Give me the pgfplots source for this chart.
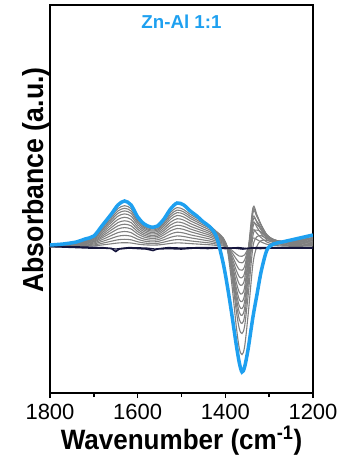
\documentclass[border=0pt]{standalone}
\usepackage{fontspec}
\setmainfont{Liberation Sans}
\usepackage{graphicx}
\usepackage{pgfplots}
\usepackage{pgfplotstable}
\pgfplotsset{compat=1.18}
\definecolor{zblue}{RGB}{30,160,240}
\definecolor{lgray}{RGB}{128,128,128}
\definecolor{navy}{RGB}{20,20,60}
\pgfplotstableread{
x g1 g2 g3 g4 g5 g6 g7 g8 g9 g10 g11 g12
1800 0.1 0.2 0.3 0.4 0.5 0.5 0.6 0.7 0.8 0.8 0.9 1.0
1770 0.2 0.4 0.5 0.7 0.9 1.1 1.2 1.4 1.5 1.7 1.8 1.9
1740 0.4 0.7 1.1 1.4 1.8 2.1 2.4 2.8 3.1 3.4 3.6 3.8
1720 0.7 1.3 1.9 2.5 3.2 3.7 4.3 4.8 5.4 5.9 6.3 6.7
1700 1.1 2.0 3.0 4.0 5.0 5.8 6.7 7.6 8.5 9.2 9.9 10.6
1680 2.1 3.8 5.7 7.6 9.5 11.1 12.8 14.5 16.2 17.6 18.9 20.2
1660 3.2 5.8 8.6 11.5 14.4 17.0 19.5 22.1 24.6 26.9 28.8 30.7
1645 4.0 7.2 10.8 14.4 18.0 21.2 24.4 27.6 30.8 33.6 36.0 38.4
1630 4.3 7.7 11.6 15.5 19.4 22.8 26.2 29.7 33.1 36.1 38.7 41.3
1615 4.0 7.2 10.8 14.4 18.0 21.2 24.4 27.6 30.8 33.6 36.0 38.4
1600 2.9 5.2 7.8 10.4 13.1 15.4 17.7 20.0 22.3 24.4 26.1 27.8
1585 2.2 4.0 5.9 7.9 9.9 11.7 13.4 15.2 16.9 18.5 19.8 21.1
1570 1.9 3.4 5.1 6.8 8.6 10.1 11.6 13.1 14.6 16.0 17.1 18.2
1555 2.0 3.6 5.4 7.2 9.0 10.6 12.2 13.8 15.4 16.8 18.0 19.2
1540 2.7 4.9 7.3 9.7 12.2 14.3 16.5 18.6 20.8 22.7 24.3 25.9
1525 3.6 6.5 9.7 13.0 16.2 19.1 22.0 24.8 27.7 30.2 32.4 34.6
1510 4.1 7.4 11.1 14.8 18.5 21.7 25.0 28.3 31.6 34.4 36.9 39.4
1495 3.9 7.0 10.5 14.0 17.6 20.7 23.8 26.9 30.0 32.8 35.1 37.4
1480 3.4 6.1 9.2 12.2 15.3 18.0 20.7 23.5 26.2 28.6 30.6 32.6
1465 3.0 5.4 8.1 10.8 13.5 15.9 18.3 20.7 23.1 25.2 27.0 28.8
1450 2.6 4.7 7.0 9.4 11.7 13.8 15.9 17.9 20.0 21.8 23.4 25.0
1435 2.2 4.0 5.9 7.9 9.9 11.7 13.4 15.2 16.9 18.5 19.8 21.1
1420 1.6 2.9 4.3 5.8 7.2 8.5 9.8 11.0 12.3 13.4 14.4 15.4
1405 1.0 1.8 2.8 3.7 4.6 5.4 6.2 7.0 7.9 8.5 9.0 9.2
1395 -0.2 -0.2 -0.3 -0.4 -0.4 -0.7 -0.9 -0.9 -0.9 -1.2 -1.8 -3.7
1385 -3.3 -5.5 -8.1 -10.7 -13.3 -16.3 -18.9 -21.2 -23.4 -26.1 -29.7 -37.7
1375 -7.1 -12.0 -17.7 -23.3 -29.0 -35.4 -41.1 -46.0 -50.9 -56.6 -63.9 -79.4
1368 -9.1 -15.4 -22.7 -29.9 -37.2 -45.4 -52.7 -59.0 -65.4 -72.7 -81.9 -101.5
1362 -9.3 -15.8 -23.2 -30.7 -38.1 -46.9 -54.6 -61.6 -68.4 -76.4 -86.5 -107.6
1356 -7.9 -13.2 -19.5 -25.9 -32.0 -40.2 -47.5 -54.4 -61.2 -69.1 -79.1 -99.7
1348 -1.4 -1.6 -2.5 -4.4 -4.4 -10.5 -16.0 -23.4 -29.9 -38.1 -48.6 -67.8
1337 8.9 16.8 24.3 29.9 39.4 36.6 34.1 26.0 19.8 11.3 0.1 -16.9
1328 7.4 13.6 19.8 24.6 32.2 31.2 30.4 25.5 22.0 16.9 10.2 0.5
1318 5.0 9.2 13.4 16.7 21.8 21.7 21.6 19.1 17.4 14.8 11.3 6.6
1305 2.7 4.9 7.2 9.1 11.8 12.0 12.2 11.3 10.7 9.7 8.3 6.5
1290 1.6 2.9 4.3 5.4 7.0 7.3 7.6 7.4 7.3 7.0 6.4 5.6
1270 1.0 1.8 2.6 3.4 4.3 4.7 5.1 5.3 5.5 5.6 5.6 5.5
1240 0.7 1.3 1.9 2.5 3.2 3.7 4.3 4.8 5.4 5.9 6.3 6.7
1200 1.0 1.8 2.7 3.6 4.5 5.3 6.1 6.9 7.7 8.4 9.0 9.6
}\grays
\begin{document}
\begin{tikzpicture}
\begin{axis}[
  name=ax, at={(0,0)}, anchor=south west,
  scale only axis, width=263pt, height=388pt,
  x dir=reverse, xmin=1200, xmax=1800, ymin=-146, ymax=242,
  xtick={1200,1400,1600,1800}, minor xtick={1300,1500,1700},
  ytick=\empty, xtick pos=left, tick align=outside,
  major tick length=5pt, minor tick length=4pt,
  every tick/.style={black, line width=1.4pt},
  axis line style={line width=1.6pt},
  /pgf/number format/assume math mode=true,
  /pgf/number format/1000 sep={},
  xticklabel style={font=\fontsize{22}{26}\selectfont, yshift=-3pt},
]
\pgfplotsinvokeforeach{1,...,12}{
  \addplot[lgray, line width=1.1pt, smooth] table[x=x,y=g#1]{\grays};
}
\addplot[navy, line width=1.6pt] coordinates {(1800,0.5)(1770,0)(1740,-0.5)(1710,-1)(1680,-1)(1660,-1.5)(1650,-4.5)(1642,-2)(1620,-1)(1600,-1.5)(1580,-2)(1565,-3.5)(1555,-2)(1530,-1.5)(1500,-2)(1470,-1)(1440,-1.5)(1420,-1)(1400,-1.5)(1380,-1)(1360,-2)(1340,-1)(1320,-1.5)(1300,-1)(1270,-1)(1240,-1)(1200,-1)};
\addplot[navy, line width=1.2pt] coordinates {(1800,1)(1760,0.5)(1720,0)(1680,-0.5)(1650,-2)(1620,-0.5)(1580,-1)(1560,-2)(1530,-0.5)(1500,-1)(1460,-0.5)(1420,-0.5)(1390,-1)(1370,-0.5)(1350,-1.5)(1330,-0.5)(1300,-0.5)(1250,-0.5)(1200,-0.5)};
\addplot[zblue, line width=3.5pt, smooth] coordinates {(1800,2)(1770,3)(1740,5)(1720,8)(1700,11)(1680,22)(1660,33)(1645,42)(1630,46)(1615,42)(1600,30)(1585,23)(1570,20)(1555,21)(1540,28)(1525,38)(1510,44)(1495,42)(1480,36)(1465,31)(1450,25)(1435,20)(1420,10)(1405,-16)(1395,-40)(1385,-68)(1375,-98)(1368,-116)(1362,-125)(1356,-120)(1348,-102)(1337,-70)(1328,-48)(1318,-24)(1305,-3)(1290,3)(1270,5)(1240,8)(1200,12)};
\node[font=\bfseries\fontsize{18.7}{22}\selectfont, text=zblue] at (axis description cs:0.5,0.958) {Zn-Al 1:1};
\end{axis}
\node[anchor=base, inner sep=0pt, font=\bfseries\fontsize{28}{33}\selectfont] at ([yshift=-56pt]ax.south) {\scalebox{0.93}[1]{Wavenumber (cm\textsuperscript{-1})}};
\node[rotate=90, anchor=base, inner sep=0pt, font=\bfseries\fontsize{29}{34}\selectfont] at ([xshift=-7pt,yshift=19pt]ax.west) {\scalebox{0.92}[1]{Absorbance (a.u.)}};
\pgfresetboundingbox
\path[use as bounding box] (-50pt,-62pt) rectangle (289pt,393pt);
\end{tikzpicture}
\end{document}
